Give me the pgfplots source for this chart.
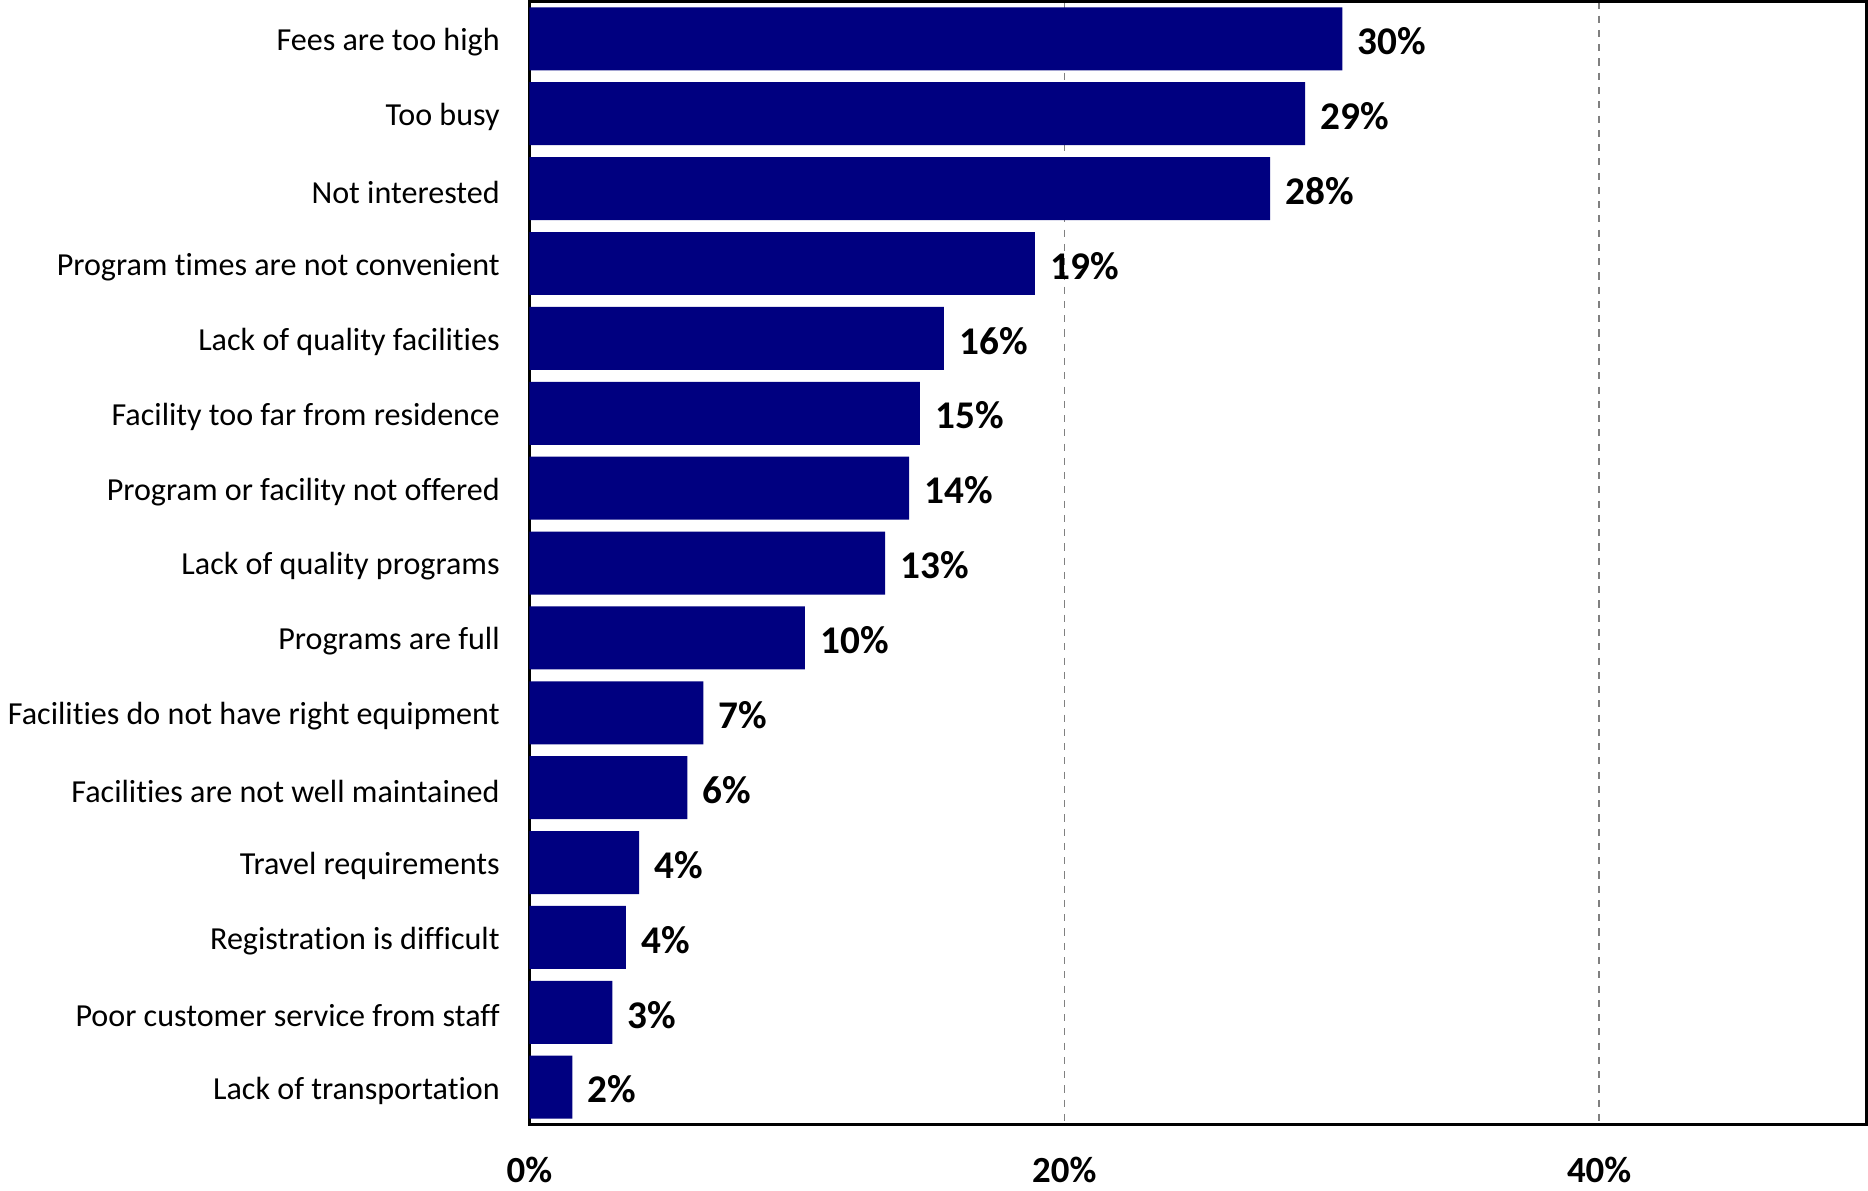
\documentclass[border=0pt]{standalone}
\usepackage{fontspec}
\setmainfont{Carlito}[RawFeature={-liga;-calt;-dlig;-clig}]
\usepackage{pgfplots}
\usepackage{pgfplotstable}
\pgfplotsset{compat=1.18}
\definecolor{barnavy}{HTML}{000080}
\pgfplotstableread[col sep=comma]{
idx,val,lab
0,30.4,30\%
1,29.0,29\%
2,27.7,28\%
3,18.9,19\%
4,15.5,16\%
5,14.6,15\%
6,14.2,14\%
7,13.3,13\%
8,10.3,10\%
9,6.5,7\%
10,5.9,6\%
11,4.1,4\%
12,3.6,4\%
13,3.1,3\%
14,1.6,2\%
}\datatable
\begin{document}
\begin{tikzpicture}
\begin{axis}[
  width=562.5pt, height=472.5pt,
  scale only axis,
  xbar, bar width=26.5pt,
  xmin=0, xmax=50,
  ymin=-0.5, ymax=14.5,
  y dir=reverse,
  axis line style={line width=1.2pt, black},
  xtick={0,20,40},
  xticklabels={\textbf{0\%},\textbf{20\%},\textbf{40\%}},
  xticklabel style={font=\fontsize{15.5}{18}\selectfont, yshift=-10pt},
  ytick={0,...,14},
  yticklabels={Fees are too high, Too busy, Not interested, Program times are not convenient, Lack of quality facilities, Facility too far from residence, Program or facility not offered, Lack of quality programs, Programs are full, Facilities do not have right equipment, Facilities are not well maintained, Travel requirements, Registration is difficult, Poor customer service from staff, Lack of transportation},
  yticklabel style={font=\fontsize{13.5}{16}\selectfont, xshift=-9pt, yshift=-1.5pt},
  major tick length=0pt,
  xmajorgrids,
  x grid style={dashed, gray, line width=0.6pt},
  nodes near coords,
  point meta=explicit symbolic,
  every node near coord/.append style={font=\fontsize{16.5}{19}\selectfont\bfseries, anchor=west, xshift=3pt, yshift=-1pt},
  /pgf/number format/assume math mode=true,
]
\addplot[fill=barnavy, draw=none] table[x=val, y=idx, meta=lab] {\datatable};
\end{axis}
\end{tikzpicture}
\end{document}
